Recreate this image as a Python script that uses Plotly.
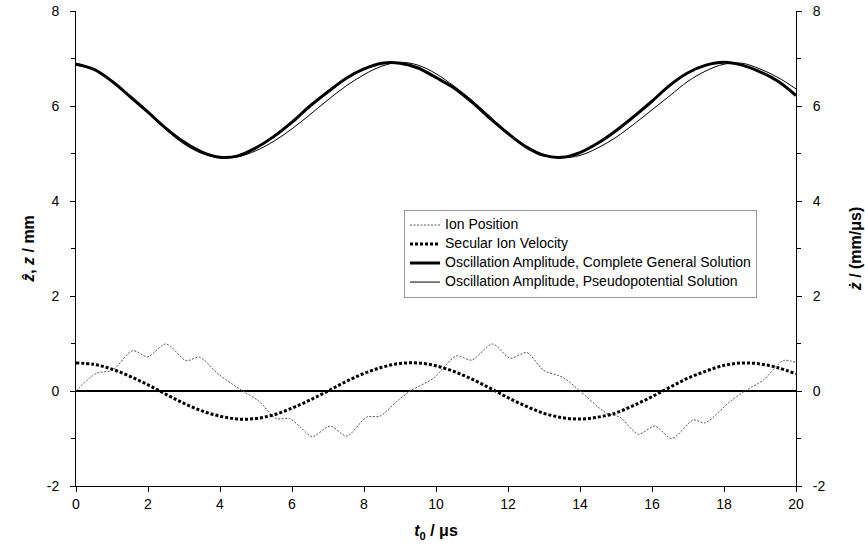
import plotly.graph_objects as go

# ---- data ----
t_grid = [0, 0.5, 1, 1.5, 2, 2.5, 3, 3.5, 4, 4.5, 5, 5.5, 6, 6.5, 7, 7.5, 8, 8.5, 9, 9.5,
          10, 10.5, 11, 11.5, 12, 12.5, 13, 13.5, 14, 14.5, 15, 15.5, 16, 16.5, 17, 17.5,
          18, 18.5, 19, 19.5, 20]

amp_complete = [6.88, 6.77, 6.52, 6.20, 5.87, 5.53, 5.24, 5.03, 4.92, 4.95, 5.12, 5.36,
                5.66, 6.00, 6.30, 6.58, 6.78, 6.90, 6.90, 6.80, 6.60, 6.38, 6.08, 5.74,
                5.42, 5.14, 4.96, 4.92, 5.02, 5.22, 5.48, 5.78, 6.10, 6.44, 6.70, 6.86,
                6.92, 6.86, 6.72, 6.52, 6.22]

amp_pseudo = [6.90, 6.78, 6.53, 6.20, 5.85, 5.50, 5.20, 5.00, 4.91, 4.93, 5.06, 5.26,
              5.52, 5.82, 6.13, 6.42, 6.66, 6.84, 6.92, 6.86, 6.68, 6.42, 6.12, 5.78,
              5.44, 5.16, 4.98, 4.91, 4.96, 5.12, 5.34, 5.62, 5.92, 6.22, 6.52, 6.74,
              6.88, 6.90, 6.78, 6.60, 6.36]

secular_velocity = [0.59, 0.56, 0.46, 0.31, 0.13, -0.07, -0.26, -0.42, -0.53, -0.59, -0.58,
                    -0.50, -0.36, -0.19, 0.00, 0.20, 0.37, 0.50, 0.58, 0.59, 0.53, 0.41,
                    0.25, 0.06, -0.14, -0.32, -0.47, -0.56, -0.59, -0.55, -0.46, -0.30,
                    -0.12, 0.08, 0.27, 0.42, 0.54, 0.59, 0.57, 0.49, 0.36]

t_ion = [0, 0.56, 1.02, 1.57, 1.99, 2.5, 3.06, 3.43, 3.98, 4.63, 5.09, 5.56, 5.93, 6.22,
         6.56, 7.06, 7.52, 8.07, 8.44, 8.91, 9.28, 9.93, 10.57, 10.99, 11.57, 12.06, 12.52,
         12.98, 13.54, 14.0, 14.74, 15.11, 15.62, 16.08, 16.55, 17.15, 17.47, 18.17, 18.58,
         19.09, 19.65, 20.0]
ion_position = [0, 0.37, 0.44, 0.85, 0.72, 0.99, 0.64, 0.71, 0.34, 0, -0.22, -0.58, -0.58,
                -0.75, -0.96, -0.74, -0.95, -0.55, -0.53, -0.22, 0, 0.27, 0.74, 0.65, 0.99,
                0.69, 0.81, 0.44, 0.28, 0, -0.47, -0.55, -0.91, -0.74, -1.0, -0.61, -0.67,
                -0.22, 0, 0.23, 0.64, 0.60]

x_ticks = [0, 2, 4, 6, 8, 10, 12, 14, 16, 18, 20]
y_ticks = [-2, 0, 2, 4, 6, 8]
y_tick_labels = ["-2", "0", "2", "4", "6", "8"]

series_names = ["Ion Position",
                "Secular Ion Velocity",
                "Oscillation Amplitude, Complete General Solution",
                "Oscillation Amplitude, Pseudopotential Solution"]

FONT = "Liberation Sans, Arial, sans-serif"


def lg(name):
    return "<span style='font-size:14px'>" + name + "</span>"


fig = go.Figure()
fig.add_trace(go.Scatter(x=t_ion, y=ion_position, mode="lines", name=lg(series_names[0]),
                         line=dict(color="#555555", width=1, dash="2px,1.5px",
                                   shape="spline", smoothing=0.8)))
fig.add_trace(go.Scatter(x=t_grid, y=secular_velocity, mode="lines", name=lg(series_names[1]),
                         yaxis="y2",
                         line=dict(color="black", width=3, dash="3px,2px", shape="spline")))
fig.add_trace(go.Scatter(x=t_grid, y=amp_complete, mode="lines", name=lg(series_names[2]),
                         line=dict(color="black", width=3, shape="spline")))
fig.add_trace(go.Scatter(x=t_grid, y=amp_pseudo, mode="lines", name=lg(series_names[3]),
                         line=dict(color="black", width=1, shape="spline")))

axis_common = dict(showgrid=False, showline=True, linecolor="black", linewidth=1,
                   ticks="outside", ticklen=5, tickcolor="black", automargin=False,
                   tickfont=dict(family=FONT, size=14, color="black"))

fig.update_layout(
    width=865, height=558,
    margin=dict(l=76, r=69, t=11, b=72),
    paper_bgcolor="white", plot_bgcolor="white",
    font=dict(family=FONT, color="black"),
    xaxis=dict(range=[0, 20], tickvals=x_ticks, zeroline=False,
               title=dict(text="<b><i>t</i><sub>0</sub> / μs</b>", font=dict(size=16), standoff=14),
               **axis_common),
    yaxis=dict(range=[-2, 8], tickvals=y_ticks, ticktext=y_tick_labels, zeroline=True,
               zerolinecolor="black", zerolinewidth=1.5, ticklabelstandoff=8,
               minor=dict(ticks="outside", ticklen=4, dtick=1, tickcolor="black"),
               title=dict(text="<b><i>ẑ</i>, <i>z</i> / mm</b>", font=dict(size=16), standoff=8),
               **axis_common),
    yaxis2=dict(range=[-2, 8], tickvals=y_ticks, ticktext=y_tick_labels, overlaying="y",
                side="right", zeroline=False, ticklabelstandoff=8,
                minor=dict(ticks="outside", ticklen=4, dtick=1, tickcolor="black"),
                title=dict(text="<b><i>ż</i> / (mm/μs)</b>", font=dict(size=16), standoff=25),
                **axis_common),
    legend=dict(x=0.4556, y=0.582, xanchor="left", yanchor="top",
                bgcolor="white", bordercolor="#999999", borderwidth=1,
                font=dict(family=FONT, size=11, color="black"),
                tracegroupgap=0, itemwidth=30),
    showlegend=True,
)

fig.write_html("out.html")
